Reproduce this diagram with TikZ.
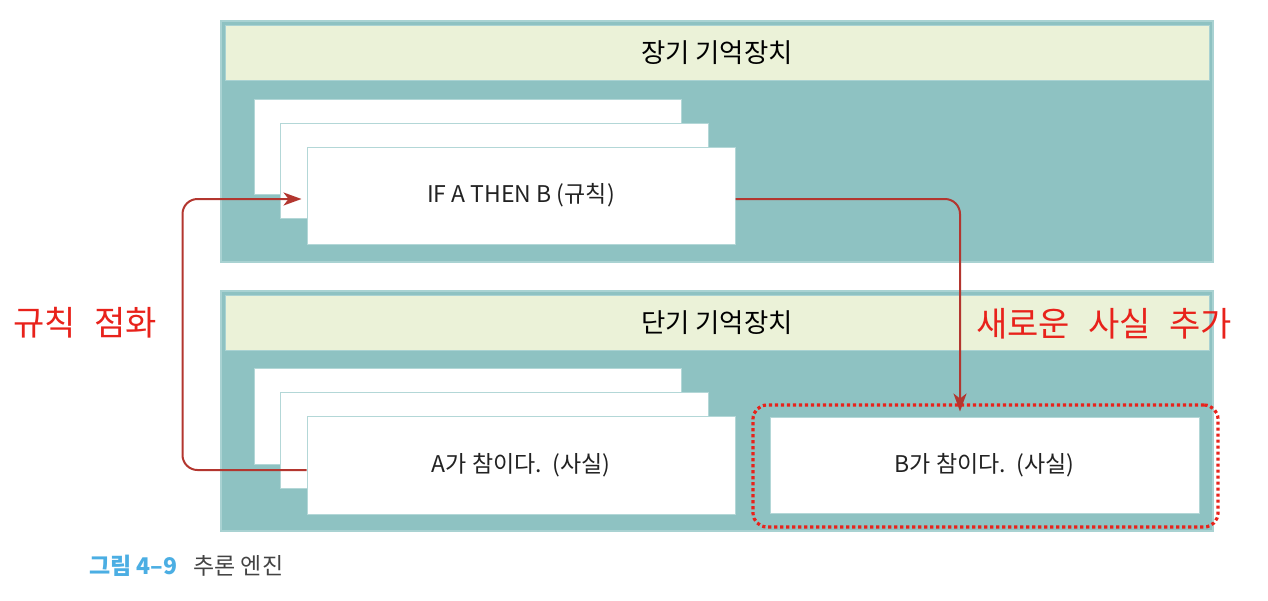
\documentclass[tikz,border=0pt]{standalone}
\usepackage{fontspec}
\setmainfont{Noto Sans CJK KR}
\newfontfamily\lblfont[WordSpace=2.4]{Noto Sans CJK KR}
\usetikzlibrary{arrows.meta}
\definecolor{teal1}{HTML}{8EC2C2}
\definecolor{tealedge}{HTML}{A9D2D2}
\definecolor{hdr}{HTML}{EBF2D8}
\definecolor{cardedge}{HTML}{B3D7D7}
\definecolor{arrred}{HTML}{B3362F}
\definecolor{lblred}{HTML}{E8221B}
\definecolor{capblue}{HTML}{4BAEE3}
\definecolor{txt}{HTML}{222222}
\tikzset{
  outerbox/.style={rectangle, fill=teal1, draw=tealedge, line width=0.6pt, inner sep=0pt},
  hdrbox/.style={rectangle, fill=hdr, draw=tealedge, line width=0.5pt, inner sep=0pt, font=\fontsize{13.2}{15}\selectfont, text=black},
  card/.style={rectangle, fill=white, draw=cardedge, line width=0.5pt, inner sep=0pt, font=\fontsize{11.5}{13}\selectfont, text=txt},
  arr/.style={draw=arrred, line width=1pt, rounded corners=7.5pt, -{Stealth[length=9pt,width=6.5pt,inset=2.5pt]}, shorten >=2.5pt},
  lbl/.style={font=\lblfont\fontsize{17}{19}\selectfont, text=lblred, inner sep=0pt, anchor=west},
  dotbox/.style={rectangle, draw=lblred, line width=1.6pt, dash pattern=on 1.6pt off 1.4pt, rounded corners=7pt, inner sep=0pt}
}
\begin{document}
\begin{tikzpicture}[x=0.5pt,y=-0.5pt]
\useasboundingbox (0,0) rectangle (1268,600);
% long-term memory
\node[outerbox, minimum width=496pt, minimum height=120.5pt] (ltm) at (717,141.5) {};
\node[hdrbox, minimum width=492pt, minimum height=27.5pt] (ltmh) at (717,52.5) {장기 기억장치};
\node[card, minimum width=213.5pt, minimum height=47.5pt] (r1) at (467.5,146.5) {};
\node[card, minimum width=214pt, minimum height=47.5pt] (r2) at (494,170.5) {};
\node[card, minimum width=214pt, minimum height=48.5pt] (r3) at (521,195.5) {IF A THEN B (규칙)};
% short-term memory
\node[outerbox, minimum width=496pt, minimum height=120pt] (stm) at (717,411) {};
\node[hdrbox, minimum width=492pt, minimum height=27.5pt] (stmh) at (717,322.5) {단기 기억장치};
\node[card, minimum width=213.5pt, minimum height=48pt] (a1) at (467.5,416) {};
\node[card, minimum width=214pt, minimum height=48pt] (a2) at (494,440) {};
\node[card, minimum width=214pt, minimum height=49pt] (a3) at (521,465) {A가 참이다.\ \ (사실)};
\node[card, minimum width=214.5pt, minimum height=48pt] (b) at (984.5,465) {B가 참이다.\ \ (사실)};
\node[dotbox, minimum width=232.5pt, minimum height=61pt] (dots) at (985.5,466) {};
% arrows
\draw[arr] ([yshift=-2.5pt]a3.west) -- ++(-62pt,0) |- ([yshift=-1.75pt]r3.west);
\draw[arr] ([yshift=-1.75pt]r3.east) -| ([xshift=-12.25pt]b.north);
% labels
\node[lbl] (l1) at (13,323) {규칙 점화};
\node[lbl] (l2) at (976,324) {새로운 사실 추가};
% caption
\node[anchor=west, inner sep=0pt, font=\bfseries\fontsize{11.5}{13}\selectfont, text=capblue] (cap1) at (89,566) {그림 4–9};
\node[anchor=west, inner sep=0pt, font=\fontsize{11.5}{13}\selectfont, text=txt!85!white] (cap2) at (193,566) {추론 엔진};
\end{tikzpicture}
\end{document}
